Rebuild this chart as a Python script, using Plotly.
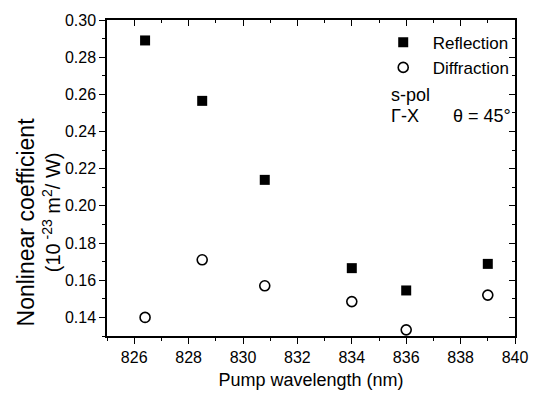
import plotly.graph_objects as go

wavelength = [826.4, 828.5, 830.8, 834.0, 836.0, 839.0]
reflection = [0.289, 0.2565, 0.214, 0.1665, 0.1545, 0.1688]
diffraction = [0.140, 0.171, 0.157, 0.1485, 0.1333, 0.152]

FONT = "Liberation Sans, Arial, Helvetica, sans-serif"

fig = go.Figure()
fig.add_trace(go.Scatter(x=wavelength, y=reflection, mode="markers", name="\u00a0\u00a0Reflection",
                         marker=dict(symbol="square", size=10, color="black", line=dict(width=0))))
fig.add_trace(go.Scatter(x=wavelength, y=diffraction, mode="markers", name="\u00a0\u00a0Diffraction",
                         marker=dict(symbol="circle-open", size=10, color="black", line=dict(width=1.6, color="black"))))

xr = [825, 840]
yr = [0.13, 0.30]

common = dict(showline=True, linewidth=1.5, linecolor="black", showgrid=False, zeroline=False,
              tickcolor="black")

fig.update_layout(
    width=540, height=399,
    margin=dict(l=107, r=13, t=13, b=62),
    paper_bgcolor="white", plot_bgcolor="white",
    font=dict(family=FONT, size=16, color="black"),
    showlegend=True,
    legend=dict(x=0.677, y=0.985, xanchor="left", yanchor="top", bgcolor="rgba(0,0,0,0)",
                font=dict(size=17, family=FONT), itemwidth=30, tracegroupgap=0),
    xaxis=dict(range=xr, dtick=2, tick0=826, ticks="outside", ticklen=6, tickwidth=1.2,
               minor=dict(dtick=1, ticks="outside", ticklen=3, tickwidth=1.2, tickcolor="black"),
               tickfont=dict(size=16), ticklabeloverflow="allow",
               title=dict(text="Pump wavelength (nm)", font=dict(size=18), standoff=8), **common),
    yaxis=dict(range=yr, dtick=0.02, tick0=0.14, tickformat=".2f", ticks="outside", ticklen=6, tickwidth=1.2,
               minor=dict(dtick=0.01, ticks="outside", ticklen=3, tickwidth=1.2, tickcolor="black"),
               tickfont=dict(size=16), ticklabeloverflow="allow", **common),
    xaxis2=dict(range=xr, overlaying="x", side="top", dtick=2, tick0=826, ticks="inside", ticklen=6, tickwidth=1.2,
                minor=dict(dtick=1, ticks="inside", ticklen=3, tickwidth=1.2, tickcolor="black"),
                showticklabels=False, **common),
    yaxis2=dict(range=yr, overlaying="y", side="right", dtick=0.02, tick0=0.14, ticks="inside", ticklen=6, tickwidth=1.2,
                minor=dict(dtick=0.01, ticks="inside", ticklen=3, tickwidth=1.2, tickcolor="black"),
                showticklabels=False, **common),
)
# invisible trace to activate the mirrored axes
fig.add_trace(go.Scatter(x=[wavelength[0]], y=[reflection[0]], xaxis="x2", yaxis="y2", mode="markers",
                         marker=dict(opacity=0), showlegend=False, hoverinfo="skip"))

# y-axis title (two lines)
fig.add_annotation(text="Nonlinear coefficient", xref="paper", yref="paper", x=-0.198, y=0.36,
                   xanchor="center", yanchor="middle", textangle=-90, showarrow=False, font=dict(size=23))
fig.add_annotation(text="(10<sup> -23</sup> m<sup>2</sup>/ W)", xref="paper", yref="paper", x=-0.136, y=0.39,
                   xanchor="center", yanchor="middle", textangle=-90, showarrow=False, font=dict(size=20))

fig.add_annotation(text="s-pol", xref="paper", yref="paper", x=0.69, y=0.762, xanchor="left", yanchor="middle",
                   showarrow=False, font=dict(size=18))
fig.add_annotation(text="Γ-X", xref="paper", yref="paper", x=0.69, y=0.697, xanchor="left", yanchor="middle",
                   showarrow=False, font=dict(size=18))
fig.add_annotation(text="θ = 45°", xref="paper", yref="paper", x=0.842, y=0.697, xanchor="left", yanchor="middle",
                   showarrow=False, font=dict(size=18))

fig.write_html("out.html")
